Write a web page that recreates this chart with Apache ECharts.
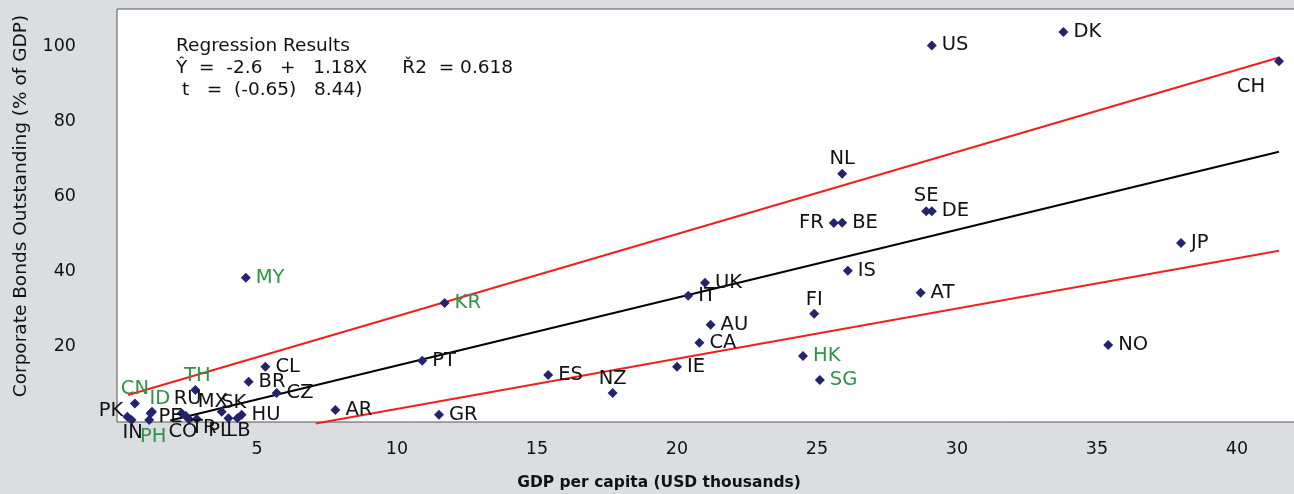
<!DOCTYPE html>
<html>
<head>
<meta charset="utf-8">
<script src="https://cdn.jsdelivr.net/npm/echarts@6/dist/echarts.min.js"></script>
<style>
    html, body { margin: 0; padding: 0; background: #dcdde0; }
    #chart { width: 1294px; height: 494px; }
</style>
</head>
<body>
<div id="chart"></div>
<script>
// country codes, GDP per capita (USD thousands), corporate bonds outstanding (% of GDP)
var countries = ['US', 'DK', 'CH', 'NL', 'SE', 'DE', 'FR', 'BE', 'JP', 'IS', 'UK', 'IT', 'AT', 'AU', 'FI',
    'CA', 'NO', 'HK', 'SG', 'IE', 'NZ', 'ES', 'PT', 'GR', 'KR', 'MY', 'CL', 'BR', 'CZ', 'AR', 'TH',
    'CN', 'ID', 'PE', 'PK', 'IN', 'PH', 'RU', 'MX', 'CO', 'TR', 'SK', 'PL', 'LB', 'HU'];
var gdp = [29.1, 33.8, 41.5, 25.9, 28.9, 29.1, 25.6, 25.9, 38.0, 26.1, 21.0, 20.4, 28.7, 21.2, 24.9,
    20.8, 35.4, 24.5, 25.1, 20.0, 17.7, 15.4, 10.9, 11.5, 11.7, 4.6, 5.3, 4.7, 5.7, 7.8, 2.8,
    0.64, 1.25, 1.2, 0.37, 0.52, 1.15, 2.31, 2.46, 2.57, 2.85, 3.74, 3.98, 4.3, 4.45];
var bonds = [100.3, 103.9, 96.1, 66.1, 56.1, 56.1, 53.0, 53.1, 47.7, 40.3, 37.1, 33.6, 34.4, 25.9, 28.8,
    21.1, 20.5, 17.6, 11.2, 14.7, 7.7, 12.5, 16.3, 1.9, 31.7, 38.4, 14.7, 10.7, 7.7, 3.2, 8.5,
    4.9, 2.7, 2.3, 1.4, 0.5, 0.5, 2.3, 1.6, 0.7, 0.8, 2.7, 1.0, 1.0, 1.9];
var asiaGroup = ['CN', 'ID', 'PH', 'TH', 'MY', 'KR', 'HK', 'SG'];

// fitted line and the two bands, as end points [gdp, bonds]
var fitLine = [[1.9, 0.4], [41.5, 72.0]];
var upperBand = [[0.4, 7.2], [41.5, 97.1]];
var lowerBand = [[7.1, -0.4], [41.5, 45.6]];

var xTicks = [5, 10, 15, 20, 25, 30, 35, 40];
var yTicks = [20, 40, 60, 80, 100];

var regressionText = [
    'Regression Results',
    'Ŷ  =  -2.6   +   1.18X      Ř2  = 0.618',
    ' t   =  (-0.65)   8.44)'
];

// label placement (where the default "right" does not fit)
var labelPlace = {
    CH: {position: 'bottom', offset: [-28, 6]},
    NL: {position: 'top', offset: [0, 5]},
    SE: {position: 'top', offset: [0, 5]},
    FR: {position: 'left'},
    FI: {position: 'top', offset: [0, 6]},
    NZ: {position: 'top', offset: [0, 6]},
    TH: {position: 'top', offset: [2, 6]},
    CN: {position: 'top', offset: [0, 5]},
    ID: {position: 'top', offset: [8, 7]},
    PK: {position: 'left', offset: [6, -6]},
    IN: {position: 'bottom', offset: [1, -7]},
    PE: {position: 'right', offset: [-2, 4]},
    PH: {position: 'bottom', offset: [4, -3]},
    RU: {position: 'top', offset: [6, 6]},
    MX: {position: 'top', offset: [27, 6]},
    CO: {position: 'bottom', offset: [-6, -7]},
    TR: {position: 'bottom', offset: [7, -11]},
    SK: {position: 'top', offset: [12, 11]},
    PL: {position: 'bottom', offset: [-9, -7]},
    LB: {position: 'bottom', offset: [1, -7]}
};

var FONT = 'DejaVu Sans';

function buildPoints() {
    var pts = [];
    for (var i = 0; i < countries.length; i++) {
        var c = countries[i];
        var place = labelPlace[c] || {position: 'right'};
        pts.push({
            name: c,
            value: [gdp[i], bonds[i]],
            label: {
                position: place.position,
                offset: place.offset || [0, 0],
                color: asiaGroup.indexOf(c) >= 0 ? '#2e9446' : '#111111'
            }
        });
    }
    return pts;
}

function lineSeries(data, color) {
    return {
        type: 'line',
        data: data,
        symbol: 'none',
        silent: true,
        clip: false,
        lineStyle: {color: color, width: 2},
        z: 1
    };
}

var myChart = echarts.init(document.getElementById('chart'));
var option = {
    backgroundColor: '#dcdde0',
    animation: false,
    grid: {
        left: 117, right: -2, top: 9, bottom: 72,
        containLabel: false,
        outerBoundsMode: 'none',
        show: true,
        backgroundColor: '#ffffff',
        borderColor: '#555555',
        borderWidth: 1
    },
    xAxis: {
        type: 'value',
        min: 0,
        max: 42.107,
        interval: 5,
        axisLine: {show: false},
        axisTick: {show: false},
        splitLine: {show: false},
        axisLabel: {
            margin: 18,
            fontFamily: FONT,
            fontSize: 17.5,
            color: '#111111',
            formatter: function (v) { return xTicks.indexOf(v) >= 0 ? String(v) : ''; }
        }
    },
    yAxis: {
        type: 'value',
        min: 0,
        max: 110,
        interval: 20,
        axisLine: {show: false},
        axisTick: {show: false},
        splitLine: {show: false},
        axisLabel: {
            margin: 41,
            fontFamily: FONT,
            fontSize: 17.5,
            color: '#111111',
            formatter: function (v) { return yTicks.indexOf(v) >= 0 ? String(v) : ''; }
        }
    },
    graphic: [
        {
            type: 'text',
            left: 176,
            top: 35,
            style: {
                text: regressionText.join('\n'),
                font: '18.5px "DejaVu Sans"',
                lineHeight: 22,
                fill: '#111111'
            }
        },
        {
            type: 'text',
            x: 21,
            y: 206,
            rotation: Math.PI / 2,
            style: {
                text: 'Corporate Bonds Outstanding (% of GDP)',
                font: '18.5px "DejaVu Sans"',
                fill: '#111111',
                align: 'center',
                verticalAlign: 'middle'
            }
        },
        {
            type: 'text',
            x: 659,
            y: 483,
            style: {
                text: 'GDP per capita (USD thousands)',
                font: 'bold 15.5px "DejaVu Sans"',
                fill: '#111111',
                align: 'center',
                verticalAlign: 'middle'
            }
        }
    ],
    series: [
        lineSeries(upperBand, '#f02020'),
        lineSeries(lowerBand, '#f02020'),
        lineSeries(fitLine, '#000000'),
        {
            name: 'countries',
            type: 'scatter',
            symbol: 'diamond',
            symbolSize: 10,
            itemStyle: {color: '#23236e', opacity: 1},
            z: 3,
            label: {
                show: true,
                formatter: '{b}',
                fontFamily: FONT,
                fontSize: 19.5,
                distance: 5
            },
            data: buildPoints()
        }
    ]
};

myChart.setOption(option);
</script>
</body>
</html>
